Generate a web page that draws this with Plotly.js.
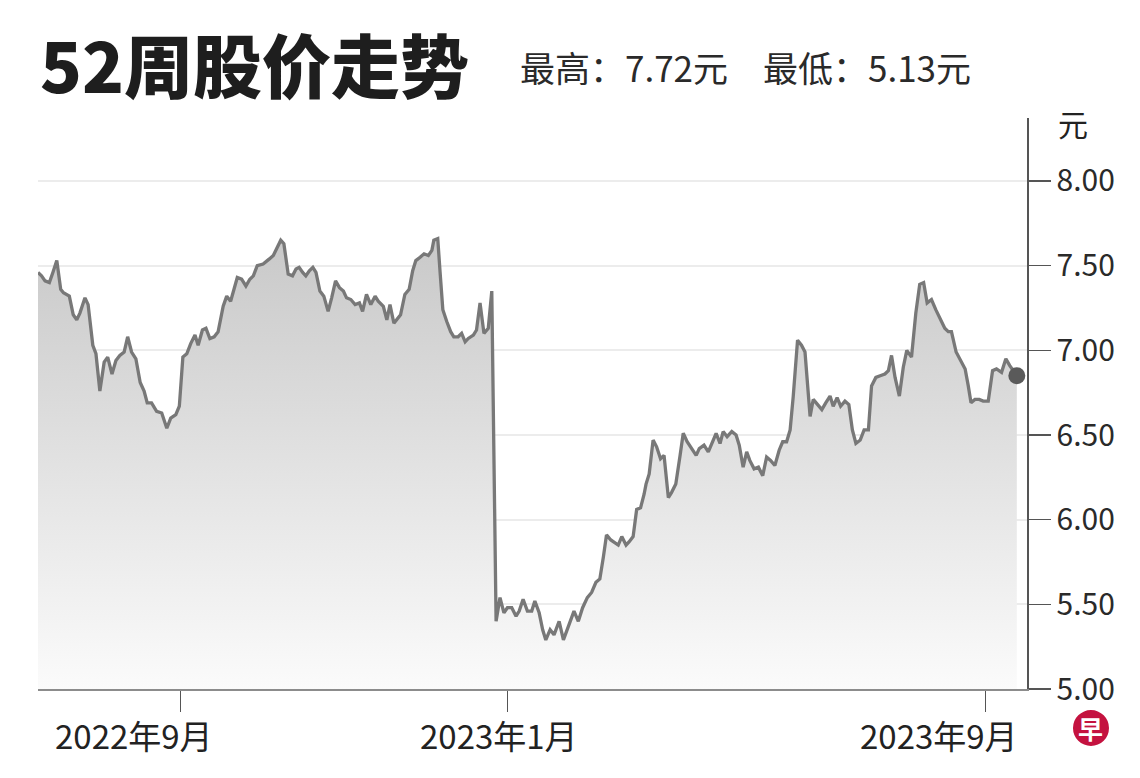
<!DOCTYPE html>
<html>
<head>
<meta charset="utf-8">
<script src="https://cdn.plot.ly/plotly-3.0.1.min.js"></script>
<style>
  html, body { margin: 0; padding: 0; background: #ffffff; }
  #chart { width: 1140px; height: 778px; }
</style>
</head>
<body>
<div id="chart"></div>
<script>
// ---- data ----
// trading-day index from the start of the 52-week window
const daysA = [0,0.9,1.8,2.9,3.8,4.8,5.8,6.5,8.0,9.0,9.9,10.7,12.0,12.8,14.0,14.8,15.8,16.9,17.8,18.9,19.9,20.9,22.0,22.9,23.9,25.0,26.1,27.1,27.9,29.0,30.3,31.6,32.9,33.9,35.2,36.1,37.0,38.0,39.0,40.1,40.9,42.0,42.9,43.9,45.0,46.0,47.3,48.2,49.2,50.9,52.0,53.1,54.1,55.0,56.0,57.5,59.1,60.1,62.0,62.8,63.9];
const pricesA = [7.46,7.44,7.41,7.40,7.46,7.53,7.36,7.34,7.32,7.21,7.18,7.22,7.31,7.27,7.03,6.98,6.76,6.93,6.96,6.86,6.94,6.97,6.99,7.08,6.99,6.95,6.81,6.76,6.69,6.69,6.64,6.63,6.54,6.60,6.62,6.67,6.96,6.98,7.04,7.09,7.03,7.12,7.13,7.07,7.08,7.11,7.26,7.32,7.29,7.43,7.42,7.38,7.42,7.44,7.50,7.51,7.54,7.56,7.65,7.63,7.45];

const daysB = [65.0,65.9,66.7,67.6,68.4,69.3,70.2,71.0,72.0,73.0,74.1,75.0,76.0,77.0,78.0,78.8,79.9,81.0,82.1,82.9,83.9,85.0,86.1,86.9,88.2,89.1,89.9,90.9,91.8,92.6,93.7,94.8,95.7,96.5,97.6,98.6,99.7,100.6,101.1,102.1,102.7,103.4,104.4,105.4,106.2,107.3,108.2,109.1,109.9,111.2,112.0,112.9,113.9,115.0,115.9];
const pricesB = [7.44,7.48,7.49,7.46,7.44,7.47,7.49,7.46,7.35,7.32,7.23,7.31,7.41,7.37,7.35,7.31,7.30,7.27,7.28,7.23,7.33,7.27,7.32,7.29,7.26,7.18,7.27,7.16,7.19,7.21,7.33,7.36,7.47,7.53,7.55,7.57,7.56,7.59,7.65,7.66,7.46,7.24,7.17,7.11,7.08,7.08,7.10,7.05,7.07,7.09,7.12,7.28,7.10,7.13,7.35];

const daysC = [117.0,118.0,119.0,119.9,121.0,122.1,122.9,123.9,125.0,126.1,126.9,128.0,128.9,129.7,130.8,131.8,133.1,134.2,135.4,136.9,138.0,139.1,140.3,141.4,142.5,143.5,144.4,145.2,146.3,147.4,148.2,149.1,150.2,151.0,152.0,152.9,153.9,154.8,155.3,156.1,157.1,158.0,159.0,159.9,161.0,161.8,162.9,164.0,164.8,165.8,166.9,168.1,168.9,170.1,171.2,172.3,173.2,174.2,175.0,176.0,177.2,178.3,179.1,180.1,181.0,181.8,182.9,184.0,185.1,186.1,187.1,188.2,189.3,190.2,191.2,192.1];
const pricesC = [5.40,5.54,5.45,5.48,5.48,5.43,5.46,5.53,5.46,5.46,5.52,5.45,5.35,5.29,5.35,5.32,5.40,5.29,5.37,5.46,5.40,5.48,5.54,5.57,5.63,5.65,5.78,5.91,5.88,5.86,5.85,5.90,5.85,5.87,5.90,6.06,6.07,6.15,6.21,6.27,6.47,6.43,6.36,6.38,6.13,6.16,6.21,6.38,6.51,6.46,6.42,6.38,6.42,6.44,6.40,6.46,6.51,6.45,6.52,6.49,6.52,6.50,6.44,6.31,6.40,6.35,6.30,6.31,6.26,6.37,6.35,6.32,6.41,6.46,6.46,6.53];

const daysD = [192.9,194.0,195.0,195.9,196.5,197.2,198.0,199.0,200.2,201.2,202.3,203.1,204.1,205.0,206.1,207.1,208.0,208.9,210.0,211.0,212.1,212.9,214.0,215.1,216.3,217.2,218.0,218.9,220.0,221.0,221.9,223.1,224.2,225.2,226.2,227.1,228.2,229.3,230.4,231.6,232.5,233.3,234.5,235.5,236.8,237.6,238.3,239.3,240.4,241.4,242.7,243.8,244.8,246.1,247.2,248.2,250.0];
const pricesD = [6.73,7.06,7.03,6.99,6.83,6.61,6.71,6.68,6.65,6.69,6.73,6.67,6.72,6.67,6.70,6.68,6.53,6.45,6.47,6.53,6.53,6.79,6.84,6.85,6.86,6.88,6.97,6.84,6.73,6.90,7.00,6.96,7.22,7.39,7.40,7.28,7.30,7.24,7.19,7.13,7.11,7.11,6.99,6.95,6.89,6.79,6.69,6.71,6.71,6.70,6.70,6.88,6.89,6.87,6.95,6.91,6.85];

// axis ticks
const monthTickDays = [36.5, 119.8, 242.1];
const monthLabelDays = [24.5, 117.7, 230.1];
const monthLabels = ['2022年9月', '2023年1月', '2023年9月'];
const priceTicks = [5.0, 5.5, 6.0, 6.5, 7.0, 7.5, 8.0];

const titleText = '52周股价走势';
const subtitleText = '最高：7.72元\u2003最低：5.13元';
const unitText = '元';

// ---- build ----
const days = daysA.concat(daysB, daysC, daysD);
const prices = pricesA.concat(pricesB, pricesC, pricesD);
const lastDay = days[days.length - 1];
const lastPrice = prices[prices.length - 1];

const CJK = '"Noto Sans CJK SC", "Noto Sans", sans-serif';

const traces = [
  {
    x: days, y: prices, type: 'scatter', mode: 'lines',
    line: { color: '#787878', width: 3.3 },
    fill: 'tozeroy',
    fillgradient: {
      type: 'vertical', start: 5.0, stop: 7.7,
      colorscale: [[0, '#fbfbfb'], [1, '#c8c8c8']]
    },
    hoverinfo: 'skip', showlegend: false
  },
  {
    x: [lastDay], y: [lastPrice], type: 'scatter', mode: 'markers',
    marker: { color: '#5a5a5a', size: 17 },
    hoverinfo: 'skip', showlegend: false, cliponaxis: false
  }
];

const annotations = monthLabels.map((t, i) => ({
  x: monthLabelDays[i], xref: 'x', y: -0.081, yref: 'paper',
  text: t, showarrow: false, xanchor: 'center', yanchor: 'middle',
  font: { family: CJK, size: 33, color: '#222' }
}));

annotations.push(
  { x: 0, xref: 'paper', y: 1.097, yref: 'paper', text: titleText, showarrow: false,
    xanchor: 'left', yanchor: 'middle',
    font: { family: CJK, size: 69, color: '#1e1e1e', weight: 900 } },
  { x: 0.4854, xref: 'paper', y: 1.091, yref: 'paper', text: subtitleText, showarrow: false,
    xanchor: 'left', yanchor: 'middle',
    font: { family: CJK, size: 35, color: '#2a2a2a' } },
  { x: 1.0465, xref: 'paper', y: 0.992, yref: 'paper', text: unitText, showarrow: false,
    xanchor: 'center', yanchor: 'middle',
    font: { family: CJK, size: 30, color: '#222' } },
  { x: 1.0647, xref: 'paper', y: -0.0683, yref: 'paper', text: '<b>早</b>', showarrow: false,
    xanchor: 'center', yanchor: 'middle',
    font: { family: CJK, size: 25, color: '#ffffff' } }
);

const layout = {
  width: 1140, height: 778,
  margin: { l: 38, r: 113, t: 118, b: 89 },
  paper_bgcolor: '#ffffff', plot_bgcolor: '#ffffff',
  showlegend: false,
  xaxis: {
    type: 'linear', range: [0, 252.6], fixedrange: true,
    showgrid: false, zeroline: false,
    showline: true, linecolor: '#8c8c8c', linewidth: 2,
    ticks: 'outside', ticklen: 21, tickwidth: 1, tickcolor: '#555',
    tickmode: 'array', tickvals: monthTickDays, showticklabels: false
  },
  yaxis: {
    side: 'right', range: [5, 8.372], fixedrange: true,
    showgrid: true, gridcolor: '#ececec', gridwidth: 2,
    zeroline: false,
    showline: true, linecolor: '#555', linewidth: 1.5,
    ticks: 'outside', ticklen: 22, tickwidth: 1.5, tickcolor: '#555',
    tickmode: 'array', tickvals: priceTicks, tickformat: '.2f',
    tickfont: { family: CJK, size: 30, color: '#2a2a2a' }
  },
  shapes: [
    { type: 'circle', xref: 'paper', yref: 'paper',
      x0: 1.0647 - 0.0182, x1: 1.0647 + 0.0182, y0: -0.0683 - 0.0315, y1: -0.0683 + 0.0315,
      fillcolor: '#c4123f', line: { width: 0 } }
  ],
  annotations: annotations
};

Plotly.newPlot('chart', traces, layout, { displayModeBar: false, staticPlot: true });
</script>
</body>
</html>
